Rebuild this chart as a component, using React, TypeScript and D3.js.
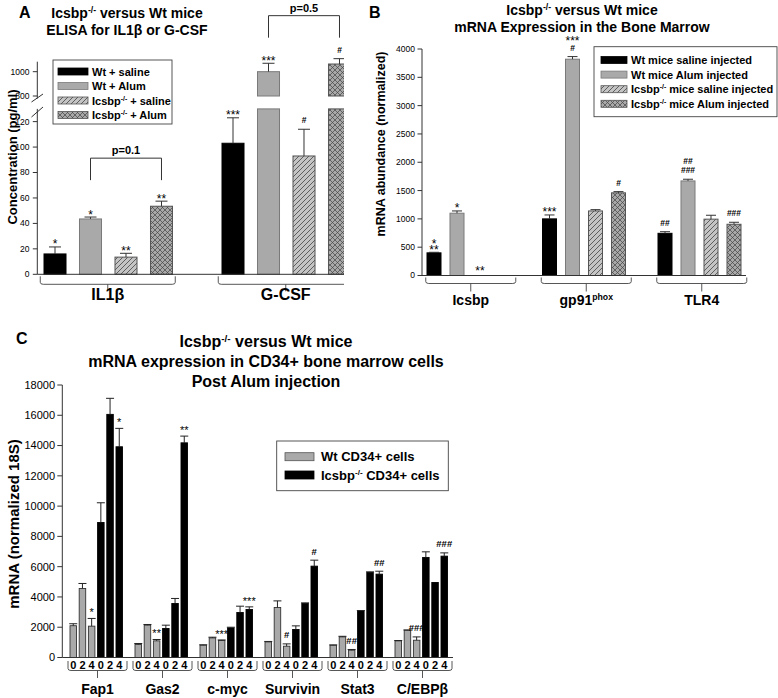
import React from "react";
import * as d3 from "d3";

const FONT = "Arial, 'Liberation Sans', Helvetica, sans-serif";

// ---------------- Panel A data ----------------
const groupsA = ["IL1β", "G-CSF"];
const seriesA = ["Wt + saline", "Wt + Alum", "Icsbp^-/-^ + saline", "Icsbp^-/-^ + Alum"];
const meansA = [
  [16, 43.5, 13.5, 53.5],
  [103, 1000, 93, 1063],
];
const errTopA = [
  [21.5, 45, 16.5, 57.5],
  [123, 1069, 114, 1107],
];
const ticksALow = [0, 20, 40, 60, 80, 100, 120];
const ticksAHigh = [800, 1000];
const marksA: [number, number, string[]][] = [
  [0, 0, ["*"]], [0, 1, ["*"]], [0, 2, ["**"]], [0, 3, ["**"]],
  [1, 0, ["***"]], [1, 1, ["***"]], [1, 2, ["#"]], [1, 3, ["#"]],
];
const pBracketsA: [number, number, number, string][] = [
  [0, 1, 3, "p=0.1"],
  [1, 1, 3, "p=0.5"],
];

// ---------------- Panel B data ----------------
const groupsB = ["Icsbp", "gp91^phox^", "TLR4"];
const seriesB = [
  "Wt mice saline injected",
  "Wt mice Alum injected",
  "Icsbp^-/-^ mice saline injected",
  "Icsbp^-/-^ mice Alum injected",
];
const meansB = [
  [400, 1100, 0, 0],
  [1000, 3820, 1140, 1460],
  [745, 1670, 995, 905],
];
const errTopB = [
  [410, 1140, 0, 0],
  [1069, 3866, 1163, 1481],
  [774, 1700, 1064, 940],
];
const ticksB = [0, 500, 1000, 1500, 2000, 2500, 3000, 3500, 4000];
const marksB: [number, number, string[]][] = [
  [0, 0, ["**", "*"]], [0, 1, ["*"]], [0, 2, ["**"]],
  [1, 0, ["***"]], [1, 1, ["#", "***"]], [1, 3, ["#"]],
  [2, 0, ["##"]], [2, 1, ["###", "##"]], [2, 3, ["###"]],
];

// ---------------- Panel C data ----------------
const groupsC = ["Fap1", "Gas2", "c-myc", "Survivin", "Stat3", "C/EBPβ"];
const daysC = ["0", "2", "4"];
const seriesC = ["Wt CD34+ cells", "Icsbp^-/-^ CD34+ cells"];
const wtC = [
  [2100, 4560, 2070],
  [860, 2135, 1100],
  [813, 1295, 1123],
  [1030, 3300, 746],
  [813, 1362, 482],
  [1100, 1800, 1140],
];
const wtErrC = [
  [2230, 4890, 2580],
  [925, 2180, 1190],
  [840, 1340, 1160],
  [1060, 3740, 900],
  [830, 1400, 530],
  [1120, 1820, 1360],
];
const koC = [
  [8920, 16060, 13920],
  [1917, 3570, 14180],
  [1956, 2974, 3170],
  [1850, 3570, 6034],
  [3080, 5617, 5505],
  [6610, 4957, 6695],
];
const koErrC = [
  [10220, 17120, 15135],
  [2135, 3900, 14625],
  [2000, 3390, 3345],
  [2090, 3610, 6430],
  [3100, 5660, 5700],
  [6980, 4957, 6910],
];
const ticksC = [0, 2000, 4000, 6000, 8000, 10000, 12000, 14000, 16000, 18000];
const marksC: [number, number, string[]][] = [
  [0, 2, ["*"]], [0, 5, ["*"]],
  [1, 2, ["**"]], [1, 5, ["**"]],
  [2, 2, ["***"]], [2, 5, ["***"]],
  [3, 2, ["#"]], [3, 5, ["#"]],
  [4, 2, ["##"]], [4, 5, ["##"]],
  [5, 2, ["###"]], [5, 5, ["###"]],
];

// ---------------- helpers ----------------
function Rich({ text, ...rest }: any) {
  const parts = String(text).split("^");
  return (
    <text {...rest}>
      {parts.map((p: string, i: number) =>
        i % 2 === 1 ? (
          <tspan key={i} fontSize="0.62em" dy="-0.55em">{p}</tspan>
        ) : (
          <tspan key={i} dy={i > 0 ? "0.341em" : undefined}>{p}</tspan>
        )
      )}
    </text>
  );
}

function brace(x1: number, x2: number, yTop: number, yH: number, yTick: number) {
  const cx = (x1 + x2) / 2;
  return (
    `M${x1},${yTop} L${x1},${yH - 2} Q${x1},${yH} ${x1 + 3},${yH} L${x2 - 3},${yH} Q${x2},${yH} ${x2},${yH - 2} L${x2},${yTop} ` +
    `M${cx},${yH} L${cx},${yTick}`
  );
}

const fillsAB = ["#000", "#a9a9a9", "url(#hatch)", "url(#cross)"];
const strokesAB = ["#000", "#7a7a7a", "#555", "#555"];

// stacked significance marks drawn as one text element (labels listed bottom -> top)
function Marks({ x, yBase, labels, star, hash, hashOff = -6, starOff = 1.5 }: any) {
  const ys: number[] = [];
  let y = 0;
  labels.forEach((lab: string, k: number) => {
    const isHash = lab.includes("#");
    if (k === 0) y = yBase + (isHash ? hashOff : starOff);
    else y = y - (isHash ? 9 : 6);
    ys.push(y);
  });
  return (
    <text textAnchor="middle">
      {labels.map((lab: string, k: number) => {
        const isHash = lab.includes("#");
        return (
          <tspan key={k} x={x} y={ys[k]} fontSize={isHash ? hash : star} fontWeight={isHash ? "bold" : "normal"}>
            {lab}
          </tspan>
        );
      })}
    </text>
  );
}

export default function App() {
  // ---------- Panel A scales ----------
  const yLo = d3.scaleLinear().domain([0, 130]).range([274.3, 108.9]);
  const yHi = d3.scaleLinear().domain([800, 1082]).range([96, 61.7]);
  const yA = (v: number) => (v <= 130 ? yLo(v) : yHi(v));
  const xA = d3.scaleBand<string>().domain(groupsA).range([19.25, 375.25]);
  const inA = d3.scaleBand<number>().domain(d3.range(4)).range([24.75, 153.25]).paddingInner(0.38);
  const bxA = (g: number, i: number) => (xA(groupsA[g]) as number) + (inA(i) as number);
  const bwA = inA.bandwidth();
  const axAx = 37.3;

  // ---------- Panel B scales ----------
  const yB = d3.scaleLinear().domain([0, 4000]).range([275.5, 49]);
  const xB = d3.scaleBand<string>().domain(groupsB).range([410.75, 757.25]);
  const inB = d3.scaleBand<number>().domain(d3.range(4)).range([16.25, 99.25]).paddingInner(0.391);
  const bxB = (g: number, i: number) => (xB(groupsB[g]) as number) + (inB(i) as number);
  const bwB = inB.bandwidth();
  const axBx = 422;

  // ---------- Panel C scales ----------
  const yC = d3.scaleLinear().domain([0, 18000]).range([657.5, 385]);
  const xC = d3.scaleBand<string>().domain(groupsC).range([63.75, 453.75]);
  const inC = d3.scaleBand<number>().domain(d3.range(6)).range([6.25, 58.75]).paddingInner(0.2935);
  const bxC = (g: number, i: number) => (xC(groupsC[g]) as number) + (inC(i) as number);
  const bwC = inC.bandwidth();
  const axCx = 62.3;
  const valC = (g: number, i: number) => (i < 3 ? wtC[g][i] : koC[g][i - 3]);
  const errC = (g: number, i: number) => (i < 3 ? wtErrC[g][i] : koErrC[g][i - 3]);

  return (
    <svg
      width={778}
      height={698}
      style={{ position: "absolute", left: 0, top: 0, background: "#fff" }}
      fontFamily={FONT}
    >
      <defs>
        <pattern id="hatch" patternUnits="userSpaceOnUse" width={5} height={5}>
          <rect width={5} height={5} fill="#c4c4c4" />
          <path d="M-1,1 L1,-1 M0,5 L5,0 M4,6 L6,4" stroke="#444" strokeWidth={0.8} />
        </pattern>
        <pattern id="cross" patternUnits="userSpaceOnUse" width={5} height={5}>
          <rect width={5} height={5} fill="#a8a8a8" />
          <path d="M-1,1 L1,-1 M0,5 L5,0 M4,6 L6,4 M-1,4 L1,6 M0,0 L5,5 M4,-1 L6,1" stroke="#444" strokeWidth={0.7} />
        </pattern>
        <clipPath id="clipA">
          <rect x={0} y={0} width={344} height={320} />
        </clipPath>
      </defs>

      {/* ================= PANEL A ================= */}
      <text x={19} y={18} fontSize={16} fontWeight="bold">A</text>
      <Rich text="Icsbp^-/-^ versus Wt mice" x={127} y={18} fontSize={14} fontWeight="bold" textAnchor="middle" />
      <text x={127} y={35} fontSize={14} fontWeight="bold" textAnchor="middle">ELISA for IL1β or G-CSF</text>

      <g clipPath="url(#clipA)">
        {meansA.map((row, g) =>
          row.map((v, i) => {
            const x = bxA(g, i);
            if (v <= 130) {
              return (
                <rect key={`a${g}${i}`} x={x} y={yLo(v)} width={bwA} height={yLo(0) - yLo(v)}
                  fill={fillsAB[i]} stroke={strokesAB[i]} strokeWidth={1} />
              );
            }
            return (
              <g key={`a${g}${i}`}>
                <rect x={x} y={yLo(130)} width={bwA} height={yLo(0) - yLo(130)} fill={fillsAB[i]} stroke={strokesAB[i]} strokeWidth={1} />
                <rect x={x} y={yHi(v)} width={bwA} height={yHi(800) - yHi(v)} fill={fillsAB[i]} stroke={strokesAB[i]} strokeWidth={1} />
              </g>
            );
          })
        )}
        {errTopA.map((row, g) =>
          row.map((e, i) => {
            const cx = bxA(g, i) + bwA / 2;
            return (
              <path key={`ea${g}${i}`} d={`M${cx},${yA(meansA[g][i])} L${cx},${yA(e)} M${cx - 6},${yA(e)} L${cx + 6},${yA(e)}`}
                stroke="#333" strokeWidth={1} fill="none" />
            );
          })
        )}
        {marksA.map(([g, i, labs], k) => (
          <Marks key={`ma${k}`} x={bxA(g, i) + bwA / 2} yBase={yA(errTopA[g][i])} labels={labs} star={12} hash={8.5} />
        ))}
        {pBracketsA.map(([g, i1, i2, lab], k) => {
          const x1 = bxA(g, i1) + bwA / 2;
          const x2 = bxA(g, i2) + bwA / 2;
          const legBottom = Math.min(yA(errTopA[g][i1]), yA(errTopA[g][i2])) - 21;
          const yH = legBottom - 22;
          return (
            <g key={`pa${k}`}>
              <path d={`M${x1},${legBottom} L${x1},${yH} L${x2},${yH} L${x2},${legBottom}`} stroke="#333" fill="none" strokeWidth={1} />
              <text x={(x1 + x2) / 2} y={yH - 4} textAnchor="middle" fontSize={11} fontWeight="bold">{lab}</text>
            </g>
          );
        })}
        <line x1={axAx} x2={360} y1={yLo(0)} y2={yLo(0)} stroke="#333" strokeWidth={1} />
        {groupsA.map((gname, g) => {
          const x0 = xA(gname) as number;
          return (
            <g key={`ba${g}`}>
              <path d={brace(x0 + 21, x0 + 156, yLo(0) + 2, yLo(0) + 10, yLo(0) + 17)} stroke="#444" fill="none" strokeWidth={0.9} />
              <text x={x0 + 88.5} y={300} textAnchor="middle" fontSize={16} fontWeight="bold">{gname}</text>
            </g>
          );
        })}
      </g>

      {/* y axis A */}
      <line x1={axAx} x2={axAx} y1={yHi(1082)} y2={98.5} stroke="#333" strokeWidth={1} />
      <line x1={axAx} x2={axAx} y1={yLo(130)} y2={yLo(0)} stroke="#333" strokeWidth={1} />
      <path d="M31.5,102 L43,94 M31.5,117 L43,107" stroke="#333" strokeWidth={1} fill="none" />
      {ticksALow.map((t) => (
        <g key={`tl${t}`}>
          <line x1={axAx - 4.5} x2={axAx} y1={yLo(t)} y2={yLo(t)} stroke="#333" />
          <text x={29.5} y={yLo(t)} dy="0.35em" textAnchor="end" fontSize={8.5}>{t}</text>
        </g>
      ))}
      {ticksAHigh.map((t) => (
        <g key={`th${t}`}>
          <line x1={axAx - 4.5} x2={axAx} y1={yHi(t)} y2={yHi(t)} stroke="#333" />
          <text x={29.5} y={yHi(t)} dy="0.35em" textAnchor="end" fontSize={8.5}>{t}</text>
        </g>
      ))}
      <text transform="translate(16.5,157) rotate(-90)" textAnchor="middle" fontSize={13} fontWeight="bold">Concentration (pg/ml)</text>

      {/* legend A */}
      <rect x={53} y={60} width={119} height={64} fill="#fff" stroke="#444" strokeWidth={0.9} />
      {seriesA.map((s, i) => {
        const cy = 71.5 + i * 14.5;
        return (
          <g key={`la${i}`}>
            <rect x={58} y={cy - 3.5} width={30} height={7} fill={fillsAB[i]} stroke={strokesAB[i]} strokeWidth={0.8} />
            <Rich text={s} x={92} y={cy + 4} fontSize={11} fontWeight="bold" />
          </g>
        );
      })}

      {/* ================= PANEL B ================= */}
      <text x={369} y={18} fontSize={16} fontWeight="bold">B</text>
      <Rich text="Icsbp^-/-^ versus Wt mice" x={582} y={15} fontSize={14} fontWeight="bold" textAnchor="middle" />
      <text x={582} y={32} fontSize={14} fontWeight="bold" textAnchor="middle">mRNA Expression in the Bone Marrow</text>

      {meansB.map((row, g) =>
        row.map((v, i) =>
          v > 0 ? (
            <rect key={`b${g}${i}`} x={bxB(g, i)} y={yB(v)} width={bwB} height={yB(0) - yB(v)}
              fill={fillsAB[i]} stroke={strokesAB[i]} strokeWidth={1} />
          ) : null
        )
      )}
      {errTopB.map((row, g) =>
        row.map((e, i) => {
          if (e <= meansB[g][i]) return null;
          const cx = bxB(g, i) + bwB / 2;
          return (
            <path key={`eb${g}${i}`} d={`M${cx},${yB(meansB[g][i])} L${cx},${yB(e)} M${cx - 5},${yB(e)} L${cx + 5},${yB(e)}`}
              stroke="#333" strokeWidth={1} fill="none" />
          );
        })
      )}
      {marksB.map(([g, i, labs], k) => (
        <Marks key={`mb${k}`} x={bxB(g, i) + bwB / 2} yBase={yB(errTopB[g][i]) - (errTopB[g][i] === 0 ? 2 : 0)} labels={labs} star={12} hash={8.5} />
      ))}
      <line x1={axBx} x2={746} y1={yB(0)} y2={yB(0)} stroke="#333" strokeWidth={1} />
      <line x1={axBx} x2={axBx} y1={yB(4000)} y2={yB(0)} stroke="#333" strokeWidth={1} />
      {ticksB.map((t) => (
        <g key={`tb${t}`}>
          <line x1={axBx - 4.5} x2={axBx} y1={yB(t)} y2={yB(t)} stroke="#333" />
          <text x={415} y={yB(t)} dy="0.35em" textAnchor="end" fontSize={8.5}>{t}</text>
        </g>
      ))}
      <text transform="translate(385,144) rotate(-90)" textAnchor="middle" fontSize={12.5} fontWeight="bold">mRNA abundance (normalized)</text>
      {groupsB.map((gname, g) => {
        const x0 = xB(gname) as number;
        return (
          <g key={`bb${g}`}>
            <path d={brace(x0 + 15, x0 + 105, yB(0) + 2, yB(0) + 8, yB(0) + 16)} stroke="#444" fill="none" strokeWidth={0.9} />
            <Rich text={gname} x={x0 + 60} y={305} textAnchor="middle" fontSize={14} fontWeight="bold" />
          </g>
        );
      })}
      <rect x={594} y={46.7} width={183} height={70} fill="#fff" stroke="#444" strokeWidth={0.9} />
      {seriesB.map((s, i) => {
        const cy = 60 + i * 14.6;
        return (
          <g key={`lb${i}`}>
            <rect x={601} y={cy - 3.5} width={26} height={7} fill={fillsAB[i]} stroke={strokesAB[i]} strokeWidth={0.8} />
            <Rich text={s} x={631} y={cy + 4} fontSize={11} fontWeight="bold" />
          </g>
        );
      })}

      {/* ================= PANEL C ================= */}
      <text x={16} y={344} fontSize={16} fontWeight="bold">C</text>
      <Rich text="Icsbp^-/-^ versus Wt mice" x={266} y={347} fontSize={16} fontWeight="bold" textAnchor="middle" />
      <text x={266} y={367} fontSize={16} fontWeight="bold" textAnchor="middle">mRNA expression in CD34+ bone marrow cells</text>
      <text x={266} y={387} fontSize={16} fontWeight="bold" textAnchor="middle">Post Alum injection</text>

      {groupsC.map((gname, g) =>
        d3.range(6).map((i) => {
          const v = valC(g, i);
          return (
            <rect key={`c${g}${i}`} x={bxC(g, i)} y={yC(v)} width={bwC} height={yC(0) - yC(v)}
              fill={i < 3 ? "#a9a9a9" : "#000"} stroke={i < 3 ? "#333" : "#000"} strokeWidth={0.9} />
          );
        })
      )}
      {groupsC.map((gname, g) =>
        d3.range(6).map((i) => {
          const v = valC(g, i);
          const e = errC(g, i);
          if (e <= v) return null;
          const cx = bxC(g, i) + bwC / 2;
          return (
            <path key={`ec${g}${i}`} d={`M${cx},${yC(v)} L${cx},${yC(e)} M${cx - 4},${yC(e)} L${cx + 4},${yC(e)}`}
              stroke="#222" strokeWidth={1} fill="none" />
          );
        })
      )}
      {marksC.map(([g, i, labs], k) => (
        <Marks key={`mc${k}`} x={bxC(g, i) + bwC / 2} yBase={yC(errC(g, i))} labels={labs} star={11} hash={9.5} hashOff={-5.6} starOff={-2} />
      ))}
      <line x1={axCx} x2={453} y1={yC(0)} y2={yC(0)} stroke="#333" strokeWidth={1} />
      <line x1={axCx} x2={axCx} y1={yC(18000)} y2={yC(0)} stroke="#333" strokeWidth={1} />
      {ticksC.map((t) => (
        <g key={`tc${t}`}>
          <line x1={axCx - 5} x2={axCx} y1={yC(t)} y2={yC(t)} stroke="#333" />
          <text x={55} y={yC(t)} dy="0.35em" textAnchor="end" fontSize={11}>{t}</text>
        </g>
      ))}
      <text transform="translate(19,524) rotate(-90)" textAnchor="middle" fontSize={15} fontWeight="bold">mRNA (normalized 18S)</text>
      {groupsC.map((gname, g) => {
        const x0 = xC(gname) as number;
        return (
          <g key={`bc${g}`}>
            {d3.range(6).map((i) => (
              <text key={i} x={bxC(g, i) + bwC / 2} y={669} textAnchor="middle" fontSize={11} fontWeight="bold">
                {daysC[i % 3]}
              </text>
            ))}
            <path d={brace(x0 + 4.25, x0 + 63.25, 661, 670.5, 678)} stroke="#444" fill="none" strokeWidth={0.9} />
            <text x={x0 + 33.75} y={694} textAnchor="middle" fontSize={14} fontWeight="bold">{gname}</text>
          </g>
        );
      })}
      <rect x={276.7} y={441} width={171.6} height={49.7} fill="#fff" stroke="#444" strokeWidth={0.9} />
      {seriesC.map((s, i) => {
        const cy = 456.7 + i * 18.3;
        return (
          <g key={`lc${i}`}>
            <rect x={285} y={cy - 4} width={29} height={8} fill={i === 0 ? "#a9a9a9" : "#000"} stroke={i === 0 ? "#555" : "#000"} strokeWidth={0.8} />
            <Rich text={s} x={321} y={cy + 4.5} fontSize={13} fontWeight="bold" />
          </g>
        );
      })}
    </svg>
  );
}
